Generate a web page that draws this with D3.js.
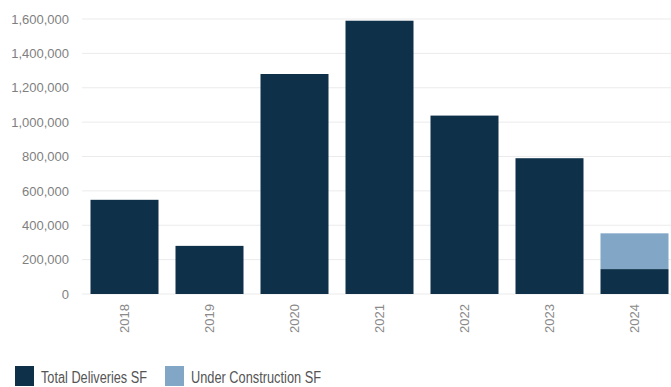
<!DOCTYPE html>
<html>
<head>
<meta charset="utf-8">
<script src="https://cdn.jsdelivr.net/npm/d3@7"></script>
<style>
  html, body { margin: 0; padding: 0; background: #fff; }
  svg { display: block; }
</style>
</head>
<body>
<svg id="chart" width="671" height="387"></svg>
<script>
// Annual industrial deliveries and space under construction (square feet)
const years = ["2018", "2019", "2020", "2021", "2022", "2023", "2024"];
const deliveries = [548000, 280000, 1280000, 1590000, 1038000, 790000, 145000];
const underConstruction = [0, 0, 0, 0, 0, 0, 208000];
const yTicks = [0, 200000, 400000, 600000, 800000, 1000000, 1200000, 1400000, 1600000];
const seriesNames = ["Total Deliveries SF", "Under Construction SF"];
const seriesColors = ["#0f3049", "#82a6c5"];

const svg = d3.select("#chart");
const margin = { left: 82, top: 19, bottom: 93 };
const height = 387;

const x = d3.scaleBand()
  .domain(years)
  .range([margin.left, 677])
  .paddingInner(0.2)
  .paddingOuter(0.1);

const y = d3.scaleLinear()
  .domain([0, 1600000])
  .range([height - margin.bottom, margin.top]);

// gridlines
svg.append("g")
  .selectAll("line")
  .data(yTicks)
  .join("line")
  .attr("x1", margin.left)
  .attr("x2", 671)
  .attr("y1", d => y(d))
  .attr("y2", d => y(d))
  .attr("stroke", "#ebebeb")
  .attr("stroke-width", 1);

// y axis labels
const yAxis = d3.axisLeft(y)
  .tickValues(yTicks)
  .tickFormat(d3.format(","))
  .tickSize(0)
  .tickPadding(13);
const gy = svg.append("g")
  .attr("transform", `translate(${margin.left},0)`)
  .call(yAxis);
gy.select(".domain").remove();
gy.selectAll("text")
  .attr("fill", "#7f7f7f")
  .style("font-family", "'Liberation Sans', Arial, sans-serif")
  .style("font-size", "13px");

// stacked bars
const rows = years.map((yr, i) => ({ year: yr, a: deliveries[i], b: underConstruction[i] }));
const stack = d3.stack().keys(["a", "b"])(rows);

svg.append("g")
  .selectAll("g")
  .data(stack)
  .join("g")
  .attr("fill", (d, i) => seriesColors[i])
  .selectAll("rect")
  .data(d => d.filter(p => p[1] > p[0]))
  .join("rect")
  .attr("x", d => x(d.data.year))
  .attr("width", x.bandwidth())
  .attr("y", d => y(d[1]))
  .attr("height", d => y(d[0]) - y(d[1]));

// x axis labels (rotated)
const xAxis = d3.axisBottom(x).tickSize(0).tickPadding(0);
const gx = svg.append("g")
  .attr("transform", `translate(0,${y(0)})`)
  .call(xAxis);
gx.select(".domain").remove();
gx.selectAll("text")
  .attr("transform", "translate(0,10) rotate(-90)")
  .attr("text-anchor", "end")
  .attr("dy", "0.35em")
  .attr("fill", "#8a8a8a")
  .style("font-family", "'Liberation Sans', Arial, sans-serif")
  .style("font-size", "13px")
  .attr("textLength", 29)
  .attr("lengthAdjust", "spacingAndGlyphs");

// legend (condensed lettering)
const legend = svg.append("g").attr("transform", "translate(15,366)");
const items = [
  { name: seriesNames[0], color: seriesColors[0], x: 0, w: 106 },
  { name: seriesNames[1], color: seriesColors[1], x: 150, w: 130 }
];
const li = legend.selectAll("g")
  .data(items)
  .join("g")
  .attr("transform", d => `translate(${d.x},0)`);
li.append("rect")
  .attr("width", 19)
  .attr("height", 20)
  .attr("fill", d => d.color);
li.append("text")
  .attr("x", 26)
  .attr("y", 17)
  .attr("fill", "#555")
  .style("font-family", "'Liberation Sans', Arial, sans-serif")
  .style("font-size", "16px")
  .attr("textLength", d => d.w)
  .attr("lengthAdjust", "spacingAndGlyphs")
  .text(d => d.name);
</script>
</body>
</html>
